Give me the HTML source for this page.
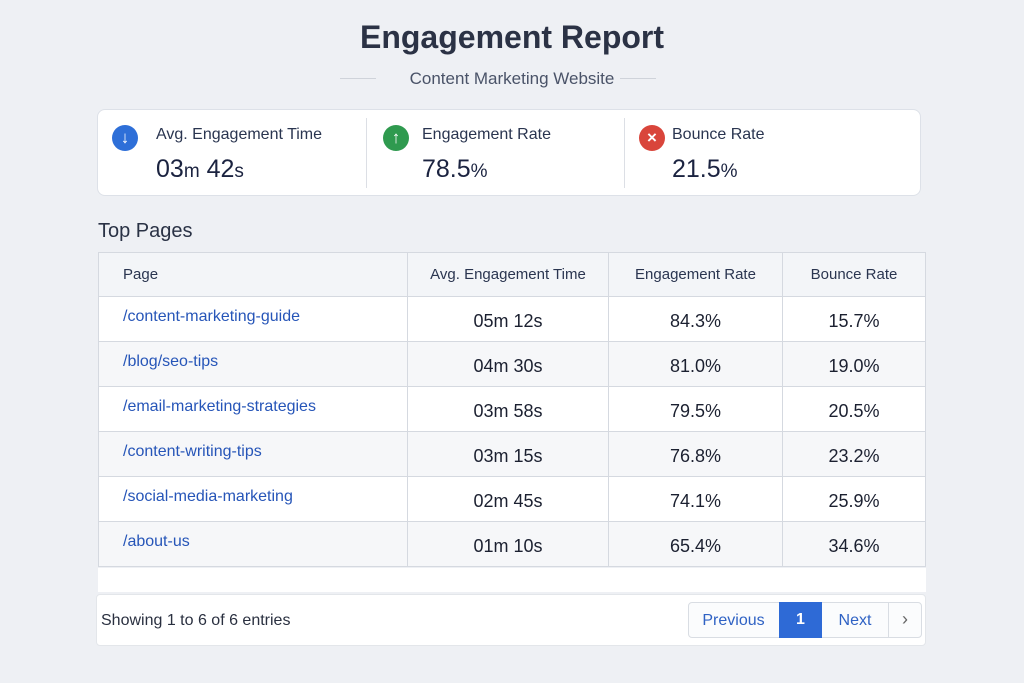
<!DOCTYPE html><html><head><style>
body{margin:0;width:1024px;height:683px;background:#eef0f4;font-family:"Liberation Sans",sans-serif;position:relative;overflow:hidden;color:#1f2a44}
.a{position:absolute}
.card{left:97px;top:109px;width:824px;height:87px;background:#fff;border:1px solid #dde1e8;border-radius:8px;box-sizing:border-box}
.vd{width:1px;background:#dcdfe5;top:118px;height:70px}
.ic{width:26px;height:26px;border-radius:50%;color:#fff;font-size:17px;font-weight:bold;text-align:center;line-height:26px}
.lbl{font-size:16px;color:#2a3550}
.val{font-size:25px;color:#1b2340}
.val small{font-size:19px}
table{border-collapse:collapse;position:absolute;left:98px;top:252px;width:828px;background:#fff;table-layout:fixed}
td,th{border:1px solid #d5d9e0;height:45px;padding:0;font-size:18px;text-align:center;color:#1b2030;font-weight:normal;box-sizing:border-box}
td{padding-top:4px}
th{font-size:15px;background:#f3f5f8;color:#2a3550;height:44px}
tr:nth-child(odd) td{background:#f6f7f9}
td:first-child,th:first-child{text-align:left;padding-left:24px;color:#2655b8;font-size:16px}
td:first-child{padding-bottom:4px;padding-top:0}
th:first-child{color:#2a3550;font-size:15px;padding-bottom:0}
</style></head><body>
<div class="a" style="left:0;width:1024px;top:19px;text-align:center;font-size:32px;font-weight:bold;color:#2b3245">Engagement Report</div>
<div class="a" style="left:340px;top:78px;width:36px;height:1px;background:#cfd3da"></div>
<div class="a" style="left:620px;top:78px;width:36px;height:1px;background:#cfd3da"></div>
<div class="a" style="left:0;width:1024px;top:69px;text-align:center;font-size:17px;color:#4a5368">Content Marketing Website</div>
<div class="a card"></div>
<div class="a vd" style="left:366px"></div><div class="a vd" style="left:624px"></div>
<div class="a ic" style="left:112px;top:125px;background:#2e6fd8">↓</div>
<div class="a lbl" style="left:156px;top:126px">Avg. Engagement Time</div>
<div class="a val" style="left:156px;top:155px">03<small>m</small> 42<small>s</small></div>
<div class="a ic" style="left:383px;top:125px;background:#2f9a4f">↑</div>
<div class="a lbl" style="left:422px;top:126px">Engagement Rate</div>
<div class="a val" style="left:422px;top:155px">78.5<small>%</small></div>
<div class="a ic" style="left:639px;top:125px;background:#d9453b">×</div>
<div class="a lbl" style="left:672px;top:126px">Bounce Rate</div>
<div class="a val" style="left:672px;top:155px">21.5<small>%</small></div>
<div class="a" style="left:98px;top:220px;font-size:20px;color:#2a3245">Top Pages</div>
<table>
<colgroup><col style="width:309px"><col style="width:201px"><col style="width:174px"><col></colgroup>
<tr><th>Page</th><th>Avg. Engagement Time</th><th>Engagement Rate</th><th>Bounce Rate</th></tr>
<tr><td>/content-marketing-guide</td><td>05m 12s</td><td>84.3%</td><td>15.7%</td></tr>
<tr><td>/blog/seo-tips</td><td>04m 30s</td><td>81.0%</td><td>19.0%</td></tr>
<tr><td>/email-marketing-strategies</td><td>03m 58s</td><td>79.5%</td><td>20.5%</td></tr>
<tr><td>/content-writing-tips</td><td>03m 15s</td><td>76.8%</td><td>23.2%</td></tr>
<tr><td>/social-media-marketing</td><td>02m 45s</td><td>74.1%</td><td>25.9%</td></tr>
<tr><td>/about-us</td><td>01m 10s</td><td>65.4%</td><td>34.6%</td></tr>
</table>
<div class="a" style="left:98px;top:568px;width:828px;height:24px;background:#fff"></div>
<div class="a" style="left:96px;top:594px;width:830px;height:52px;background:#fff;border-radius:4px;border:1px solid #e3e6ea;box-sizing:border-box"></div>
<div class="a" style="left:101px;top:612px;font-size:16px;color:#2a3040">Showing 1 to 6 of 6 entries</div>
<div class="a" style="left:688px;top:602px;width:234px;height:36px;border:1px solid #d9dde3;border-radius:4px;box-sizing:border-box;background:#fbfcfd"></div>
<div class="a" style="left:688px;top:612px;width:91px;text-align:center;font-size:16px;color:#2f62c4">Previous</div>
<div class="a" style="left:779px;top:602px;width:43px;height:36px;background:#2e6ad6;color:#fff;text-align:center;line-height:36px;font-size:16px;font-weight:bold">1</div>
<div class="a" style="left:822px;top:612px;width:66px;text-align:center;font-size:16px;color:#2f62c4">Next</div>
<div class="a" style="left:888px;top:603px;width:1px;height:34px;background:#d9dde3"></div>
<div class="a" style="left:888px;top:609px;width:34px;text-align:center;font-size:18px;color:#666">›</div>
</body></html>
